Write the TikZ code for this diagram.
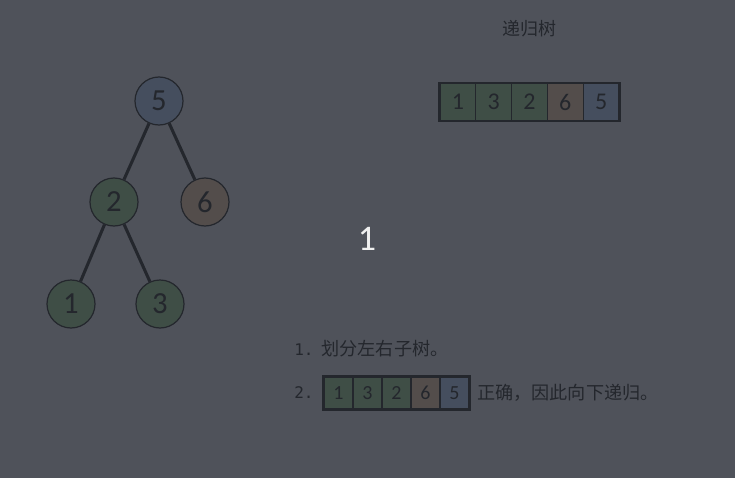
\documentclass[tikz,border=0pt]{standalone}
\usepackage{fontspec}
\setmainfont{Carlito}
\newfontfamily\cjk{Noto Sans CJK SC}
\newfontfamily\mono{DejaVu Sans Mono}

\definecolor{bgslate}{RGB}{79,82,90}
\definecolor{rootblue}{RGB}{69,78,94}
\definecolor{leafgreen}{RGB}{63,78,70}
\definecolor{brownish}{RGB}{83,77,75}
\definecolor{inkdark}{RGB}{36,39,45}

\tikzset{
  treenode/.style={circle, draw=inkdark, line width=0.9pt, minimum size=36pt,
    inner sep=0pt, text=inkdark, font=\fontsize{23}{23}\selectfont},
  treeedge/.style={draw=inkdark, line width=2.3pt},
  topcell/.style={rectangle, draw=inkdark, line width=0.8pt, minimum width=26.85pt,
    minimum height=27.75pt, inner sep=0pt, text=inkdark, font=\fontsize{18}{18}\selectfont},
  lowcell/.style={rectangle, draw=inkdark, line width=0.8pt, minimum width=21.75pt,
    minimum height=24pt, inner sep=0pt, text=inkdark, font=\fontsize{15}{15}\selectfont},
  arrayframe/.style={draw=inkdark, line width=1.8pt},
  plaintext/.style={text=inkdark, inner sep=0pt, anchor=west}
}

\begin{document}
\begin{tikzpicture}[x=0.75pt, y=-0.75pt]
        % Background
        \fill[bgslate] (0,0) rectangle (735,478);
        \useasboundingbox (0,0) rectangle (735,478);

        % Tree
        \node[treenode, fill=rootblue] (n5) at (159,101) {5};
        \node[treenode, fill=leafgreen] (n2) at (114,202) {2};
        \node[treenode, fill=brownish] (n6) at (205,202) {6};
        \node[treenode, fill=leafgreen] (n1) at (71,304) {1};
        \node[treenode, fill=leafgreen] (n3) at (160,304) {3};
        \draw[treeedge] (n5) -- (n2);
        \draw[treeedge] (n5) -- (n6);
        \draw[treeedge] (n2) -- (n1);
        \draw[treeedge] (n2) -- (n3);

        % Title and traversal array
        \node[text=inkdark, font=\cjk\fontsize{13.5}{13.5}\selectfont] (title) at (529,29) {递归树};
        \foreach \v/\c [count=\i] in {1/leafgreen,3/leafgreen,2/leafgreen,6/brownish,5/rootblue}
          \node[topcell, fill=\c] (t\i) at ({440+35.8*(\i-0.5)},102) {\v};
        \draw[arrayframe] (t1.north west) rectangle (t5.south east);

        % Current value
        \node[text=white!94!black, font=\fontsize{27}{27}\selectfont] (current) at (367,239) {1};

        % Steps
        \node[plaintext] (step1) at (294,349) {{\mono\fontsize{12}{12}\selectfont 1.}\hspace{6pt}{\cjk\fontsize{13.6}{14}\selectfont 划分左右子树。}};
        \node[plaintext, font=\mono\fontsize{12}{12}\selectfont] (step2) at (294,393) {2.};
        \foreach \v/\c [count=\i] in {1/leafgreen,3/leafgreen,2/leafgreen,6/brownish,5/rootblue}
          \node[lowcell, fill=\c] (b\i) at ({324+29*(\i-0.5)},393) {\v};
        \draw[arrayframe] (b1.north west) rectangle (b5.south east);
        \node[plaintext, font=\cjk\fontsize{13.6}{14}\selectfont] (verdict) at (477,393) {正确，因此向下递归。};
\end{tikzpicture}
\end{document}
